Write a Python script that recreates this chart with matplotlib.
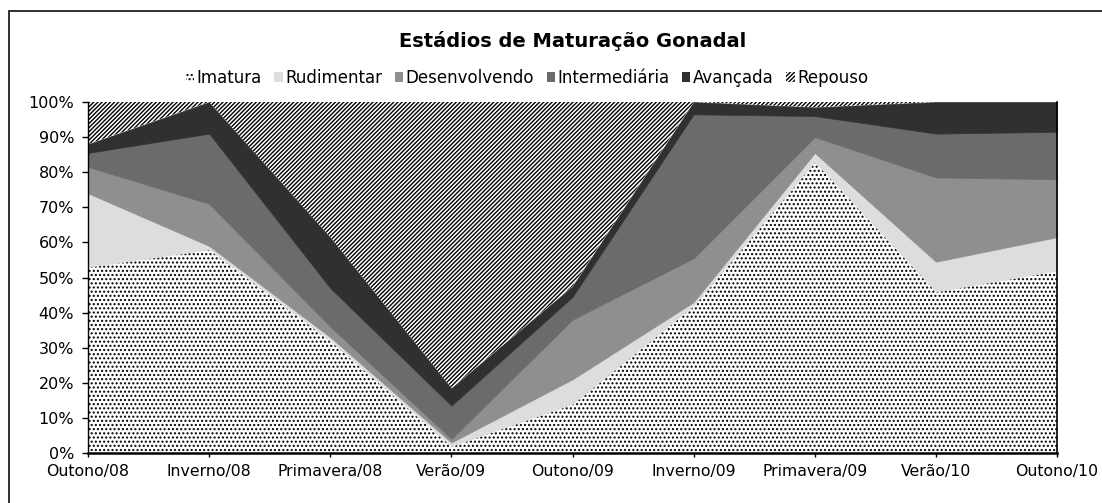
import matplotlib.pyplot as plt
import matplotlib.patches as mpatches
import numpy as np

plt.rcParams['font.family'] = ['DejaVu Sans']
plt.rcParams['hatch.color'] = 'black'
plt.rcParams['hatch.linewidth'] = 1.0

# valores (% de individuos por estadio)
estacoes = ["Outono/08", "Inverno/08", "Primavera/08", "Verão/09", "Outono/09",
            "Inverno/09", "Primavera/09", "Verão/10", "Outono/10"]

imatura = [53, 58, 32, 2, 14, 42, 83, 46, 52]
rudimentar = [21, 1, 1, 1, 7, 1, 2.5, 8.5, 9.5]
desenvolvendo = [7.5, 12, 3, 1, 17, 12.5, 4.5, 24, 16.5]
intermediaria = [4, 20, 11, 9.5, 6.5, 41, 6, 12.5, 13.5]
avancada = [2.5, 9, 14.5, 5, 3, 3.5, 2.5, 9, 8.5]
repouso = [12, 0, 38.5, 81.5, 52.5, 0, 1.5, 0, 0]

nomes = ["Imatura", "Rudimentar", "Desenvolvendo", "Intermediária", "Avançada", "Repouso"]
series = [imatura, rudimentar, desenvolvendo, intermediaria, avancada, repouso]

# (cor, hachura)
estilos = [("white", "...."), ("#dddddd", None), ("#8f8f8f", None),
           ("#6b6b6b", None), ("#303030", None), ("white", "////////")]

fig = plt.figure(figsize=(11.02, 5.03), dpi=100)
ax = fig.add_axes([0.0799, 0.0994, 0.8793, 0.6978])

x = np.arange(len(estacoes))
base = np.zeros(len(estacoes))
handles = []
for nome, valores, (cor, hatch) in zip(nomes, series, estilos):
    topo = base + np.array(valores, dtype=float)
    if hatch:
        ax.fill_between(x, base, topo, facecolor=cor, edgecolor="black",
                        hatch=hatch, linewidth=0)
        handles.append(mpatches.Patch(facecolor=cor, edgecolor="black",
                                      hatch=hatch, linewidth=0, label=nome))
    else:
        ax.fill_between(x, base, topo, facecolor=cor, edgecolor=cor, linewidth=0.5)
        handles.append(mpatches.Patch(facecolor=cor, edgecolor=cor,
                                      linewidth=0, label=nome))
    base = topo

ax.set_xlim(0, len(estacoes) - 1)
ax.set_ylim(0, 100)
ax.set_xticks(x)
ax.set_xticklabels(estacoes, fontsize=11.3)
ax.set_yticks(np.arange(0, 101, 10))
ax.set_yticklabels([f"{v}%" for v in range(0, 101, 10)], fontsize=11.5)
ax.tick_params(axis="y", direction="out", length=4, width=1, pad=6)
ax.tick_params(axis="x", direction="out", length=3, width=1, pad=5)

ax.spines["top"].set_visible(False)
ax.spines["right"].set_linewidth(1.2)
ax.spines["left"].set_linewidth(1.0)
ax.spines["bottom"].set_linewidth(1.8)

fig.text(573 / 1102, 1 - 41 / 503, "Estádios de Maturação Gonadal",
         ha="center", va="center", fontsize=14, fontweight="bold")

fig.legend(handles=handles, loc="center", bbox_to_anchor=(527 / 1102, 1 - 78 / 503),
           ncol=6, frameon=False, fontsize=12, handlelength=0.5, handleheight=0.5,
           handletextpad=0.15, columnspacing=0.75, borderpad=0)

# moldura do grafico
fig.patches.append(mpatches.Rectangle((9 / 1102, -0.1), 1.2, 1 - 11 / 503 + 0.1,
                                      transform=fig.transFigure, fill=False,
                                      edgecolor="#222222", linewidth=1.3))

fig.savefig("out.png", dpi=100)
